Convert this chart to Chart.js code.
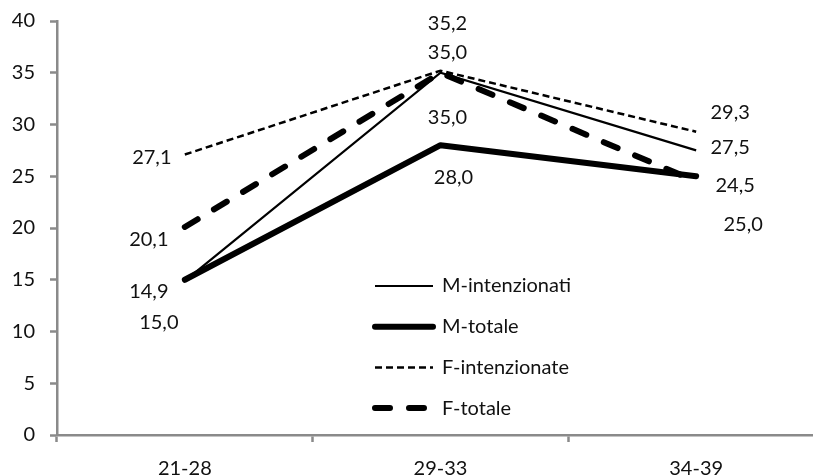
<!DOCTYPE html>
<html>
<head>
<meta charset="utf-8">
<script src="https://cdn.jsdelivr.net/npm/chart.js@4"></script>
<style>
  html, body { margin: 0; padding: 0; background: #fff; overflow: hidden; }
  #wrap { width: 824px; height: 476px; }
</style>
</head>
<body>
<div id="wrap"><canvas id="chart"></canvas></div>
<script>
// age groups on the x axis
var ageGroups = ['21-28', '29-33', '34-39'];

// values per series
var mIntenzionati = [14.9, 35.0, 27.5];
var mTotale = [15.0, 28.0, 25.0];
var fIntenzionate = [27.1, 35.2, 29.3];
var fTotale = [20.1, 35.0, 24.5];

var yTicks = [0, 5, 10, 15, 20, 25, 30, 35, 40];

// where each value label sits relative to its point (px)
var labelOffsets = [
    [[-36, 11], [7, -20], [34, -3]],
    [[-26, 43], [13, 32], [47, 48]],
    [[-33, 3], [7, -47], [34, -19]],
    [[-36, 13], [7, 45], [39, 4]]
];

Chart.defaults.font.family = 'Lato, "Noto Sans", sans-serif';
Chart.defaults.font.size = 20;
Chart.defaults.color = '#111';

function fmt(v) { return v.toFixed(1).replace('.', ','); }

// value labels next to the points, like Excel's data labels
var valueLabels = {
    id: 'valueLabels',
    afterDatasetsDraw: function(chart) {
        var ctx = chart.ctx;
        ctx.save();
        ctx.font = '20px ' + Chart.defaults.font.family;
        ctx.fillStyle = '#111';
        ctx.textAlign = 'center';
        ctx.textBaseline = 'middle';
        chart.data.datasets.forEach(function(ds, i) {
            var meta = chart.getDatasetMeta(i);
            meta.data.forEach(function(pt, j) {
                var off = labelOffsets[i][j];
                ctx.fillText(fmt(ds.data[j]), pt.x + off[0], pt.y + off[1]);
            });
        });
        ctx.restore();
    }
};

// legend drawn inside the plot area
var insideLegend = {
    id: 'insideLegend',
    afterDraw: function(chart) {
        var ctx = chart.ctx;
        var x0 = 375, len = 58, textX = 442, y0 = 286, gap = 40.7;
        ctx.save();
        chart.data.datasets.forEach(function(ds, i) {
            var y = y0 + i * gap;
            ctx.beginPath();
            ctx.strokeStyle = ds.borderColor;
            ctx.lineWidth = ds.borderWidth;
            ctx.lineCap = ds.borderCapStyle || 'butt';
            ctx.setLineDash(ds.borderDash || []);
            ctx.moveTo(x0, y);
            ctx.lineTo(x0 + len, y);
            ctx.stroke();
            ctx.setLineDash([]);
            ctx.font = '20px ' + Chart.defaults.font.family;
            ctx.fillStyle = '#111';
            ctx.textAlign = 'left';
            ctx.textBaseline = 'middle';
            ctx.fillText(ds.label, textX, y);
        });
        ctx.restore();
    }
};

new Chart(document.getElementById('chart'), {
    type: 'line',
    data: {
        labels: ageGroups,
        datasets: [
            { label: 'M-intenzionati', data: mIntenzionati, borderColor: '#000', borderWidth: 2.2, borderCapStyle: 'butt' },
            { label: 'M-totale', data: mTotale, borderColor: '#000', borderWidth: 6, borderCapStyle: 'round', borderJoinStyle: 'round' },
            { label: 'F-intenzionate', data: fIntenzionate, borderColor: '#000', borderWidth: 2.5, borderDash: [7, 4] },
            { label: 'F-totale', data: fTotale, borderColor: '#000', borderWidth: 6, borderDash: [15, 19], borderCapStyle: 'round' }
        ]
    },
    plugins: [valueLabels, insideLegend],
    options: {
        responsive: true,
        maintainAspectRatio: false,
        animation: false,
        layout: { padding: { top: 21, left: 0, right: 0, bottom: 0 } },
        elements: { point: { radius: 0 }, line: { tension: 0, fill: false } },
        plugins: { legend: { display: false }, tooltip: { enabled: false } },
        scales: {
            x: {
                offset: true,
                grid: { display: true, drawOnChartArea: false, offset: true, tickLength: 7, tickWidth: 2.5, tickColor: '#8a8a8a' },
                border: { color: '#8a8a8a', width: 2.5 },
                ticks: { padding: 15, color: '#111', maxRotation: 0 },
                afterFit: function(s) { s.height = 41; }
            },
            y: {
                min: 0,
                max: 40,
                afterBuildTicks: function(s) { s.ticks = yTicks.map(function(v) { return { value: v }; }); },
                grid: { display: true, drawOnChartArea: false, tickLength: 7, tickWidth: 2.5, tickColor: '#8a8a8a' },
                border: { color: '#8a8a8a', width: 2.5 },
                ticks: { padding: 15, color: '#111' },
                afterFit: function(s) { s.width = 57; s.paddingTop = 0; s.paddingBottom = 0; }
            }
        }
    }
});
</script>
</body>
</html>
